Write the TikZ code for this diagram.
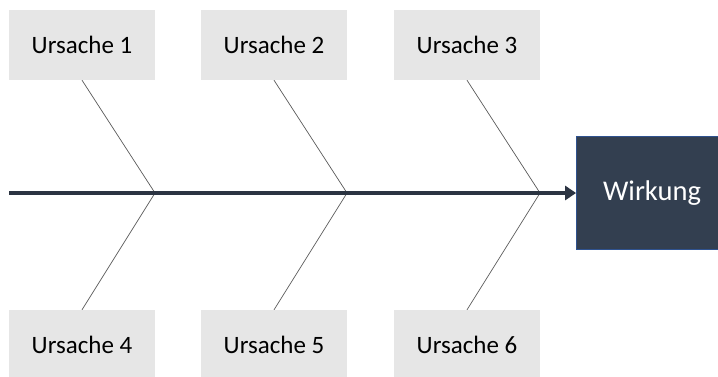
\documentclass[tikz,border=0pt]{standalone}
\usepackage{fontspec}
\setmainfont{Carlito}
\usetikzlibrary{arrows.meta}
\definecolor{causefill}{HTML}{E6E6E6}
\definecolor{effectfill}{HTML}{333F50}
\definecolor{effectedge}{HTML}{2F528F}
\definecolor{spine}{HTML}{2B3442}
\definecolor{bone}{HTML}{595959}
\tikzset{
  cause/.style={fill=causefill, minimum width=146pt, minimum height=70pt,
    inner sep=0pt, font=\fontsize{25}{30}\selectfont, text=black},
  effect/.style={fill=effectfill, draw=effectedge, line width=0.8pt,
    minimum width=151pt, minimum height=113pt, inner sep=0pt,
    font=\fontsize{28.5}{34}\selectfont, text=white},
  bonel/.style={draw=bone, line width=0.7pt},
  spinel/.style={draw=spine, line width=4pt, -{Triangle[length=11pt,width=14pt]}}
}
\begin{document}
\begin{tikzpicture}[x=1pt,y=-1pt]
\useasboundingbox (0,0) rectangle (718,376);
% cause boxes
\node[cause] (c1) at (82,45)  {Ursache 1};
\node[cause] (c2) at (274,45) {Ursache 2};
\node[cause] (c3) at (467,45) {Ursache 3};
\node[cause] (c4) at (82,345)  {Ursache 4};
\node[cause] (c5) at (274,345) {Ursache 5};
\node[cause] (c6) at (467,345) {Ursache 6};
% effect box
\node[effect] (eff) at (652,193) {Wirkung};
% junctions on the spine
\coordinate (j1) at (155,193);
\coordinate (j2) at (347,193);
\coordinate (j3) at (540,193);
\coordinate (tail) at (9,193);
% bones
\draw[bonel] (c1.south) -- (j1) -- (c4.north);
\draw[bonel] (c2.south) -- (j2) -- (c5.north);
\draw[bonel] (c3.south) -- (j3) -- (c6.north);
% spine
\draw[spinel] (tail) -- (eff.west);
\end{tikzpicture}
\end{document}
